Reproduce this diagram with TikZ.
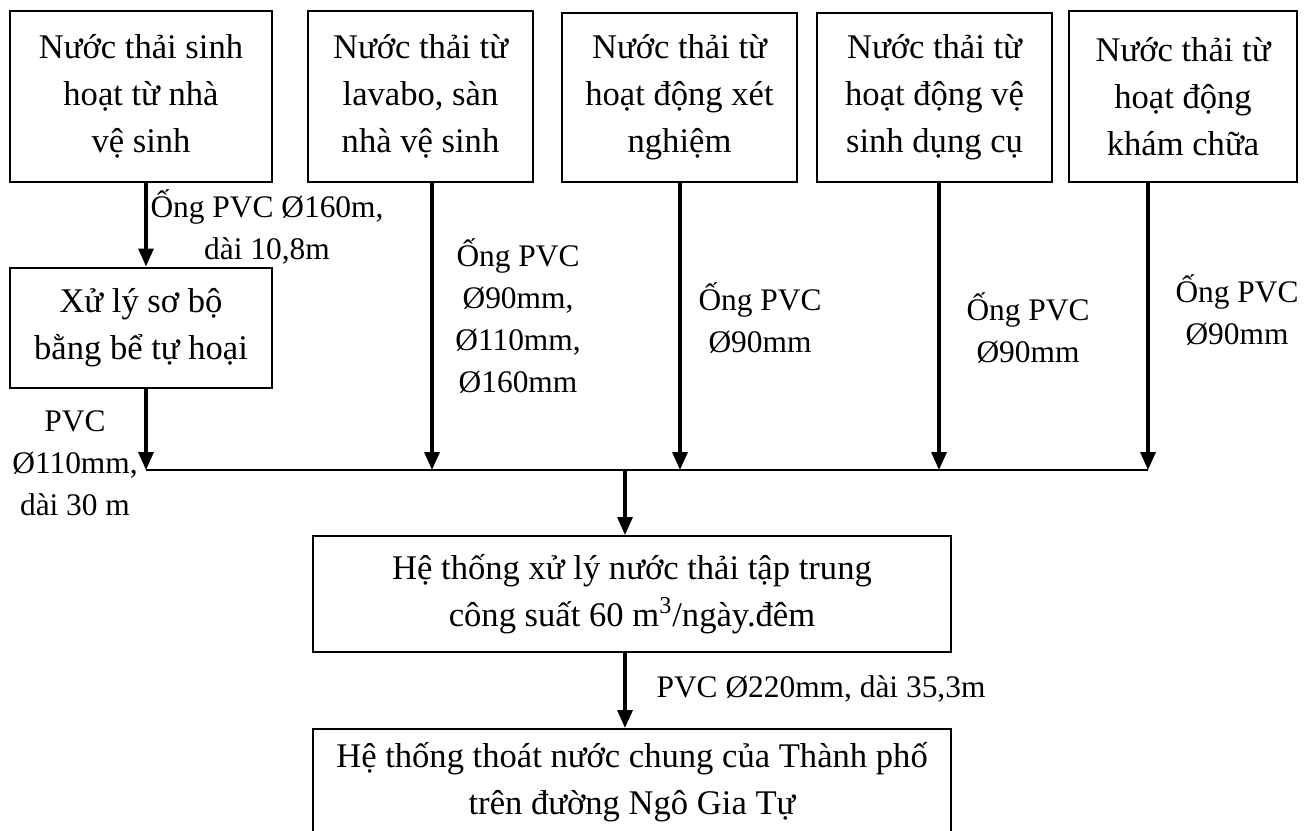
\documentclass[tikz,border=0pt]{standalone}
\usepackage{fontspec}
\setmainfont{Liberation Serif}
\usetikzlibrary{arrows.meta}

\begin{document}
\begin{tikzpicture}[x=0.5pt, y=-0.5pt,
        box/.style = {draw, rectangle, line width=1pt, align=center, inner sep=0pt, font=\fontsize{17.3}{23.5}\selectfont},
        lbl/.style = {align=center, inner sep=0pt, font=\fontsize{15.7}{21}\selectfont},
        arr/.style = {-{Triangle[length=9pt, width=7.5pt]}, line width=1.6pt}]
        \useasboundingbox (0, 0) rectangle (1304, 830);
        % nguon thai
        \node[box, minimum width=131pt, minimum height=85.5pt] (sh) at (141, 96) {Nước thải sinh\\hoạt từ nhà\\vệ sinh};
        \node[box, minimum width=112.5pt, minimum height=85.5pt] (ld) at (420.5, 96) {Nước thải từ\\lavabo, sàn\\nhà vệ sinh};
        \node[box, minimum width=117.5pt, minimum height=84.5pt] (xn) at (679.5, 97.5) {Nước thải từ\\hoạt động xét\\nghiệm};
        \node[box, minimum width=117.5pt, minimum height=84.5pt] (dc) at (934.5, 97.5) {Nước thải từ\\hoạt động vệ\\sinh dụng cụ};
        \node[box, minimum width=114pt, minimum height=85.5pt] (kc) at (1183, 96.5) {Nước thải từ\\hoạt động\\khám chữa};
        \node[box, minimum width=131pt, minimum height=60pt] (th) at (141, 327.5) {Xử lý sơ bộ\\bằng bể tự hoại};
        \node[box, minimum width=319pt, minimum height=58pt] (tt) at (632, 594) {Hệ thống xử lý nước thải tập trung\\công suất 60 m\textsuperscript{3}/ngày.đêm};
        \node[box, minimum width=319pt, minimum height=53pt] (tn) at (632, 782) {Hệ thống thoát nước chung của Thành phố\\trên đường Ngô Gia Tự};
        % diem noi tren ong gom
        \coordinate (j1) at (146, 470);
        \coordinate (j2) at (432, 470);
        \coordinate (j3) at (680, 470);
        \coordinate (j4) at (939, 470);
        \coordinate (j5) at (1148, 470);
        \coordinate (jm) at (625, 470);
        % duong ong
        \draw[arr] (sh.south -| j1) -- (th.north -| j1);
        \draw[arr] (th.south -| j1) -- (j1);
        \draw[arr] (ld.south -| j2) -- (j2);
        \draw[arr] (xn.south -| j3) -- (j3);
        \draw[arr] (dc.south -| j4) -- (j4);
        \draw[arr] (kc.south -| j5) -- (j5);
        \draw[line width=0.75pt] (j1) -- (j5);
        \draw[arr] (jm) -- (tt.north -| jm);
        \draw[arr] (tt.south -| jm) -- (tn.north -| jm);
        % nhan ong
        \node[lbl] (o1) at (267, 227) {Ống PVC Ø160m,\\dài 10,8m};
        \node[lbl] (o0) at (75, 463) {PVC\\Ø110mm,\\dài 30 m};
        \node[lbl] (o2) at (518, 316) {Ống PVC\\Ø90mm,\\Ø110mm,\\Ø160mm};
        \node[lbl] (o3) at (760, 318) {Ống PVC\\Ø90mm};
        \node[lbl] (o4) at (1028, 328) {Ống PVC\\Ø90mm};
        \node[lbl] (o5) at (1237, 310) {Ống PVC\\Ø90mm};
        \node[lbl] (o6) at (821, 689) {PVC Ø220mm, dài 35,3m};
    \end{tikzpicture}
\end{document}
